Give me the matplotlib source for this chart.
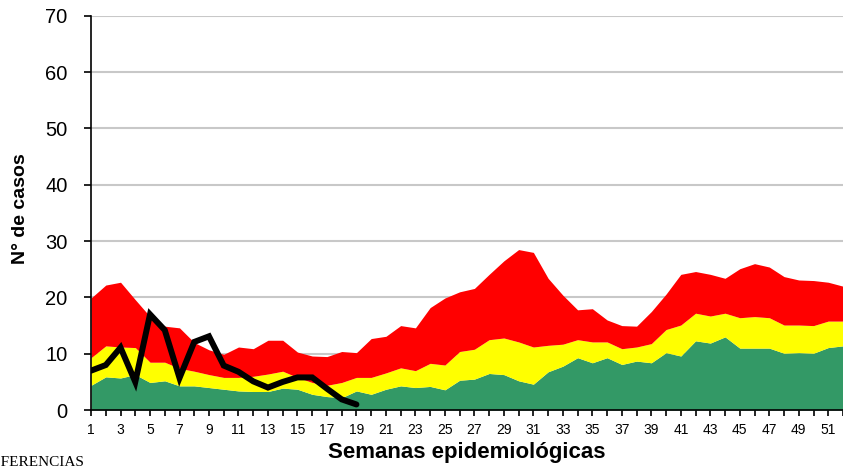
#!/usr/bin/env python3
# -*- coding: utf-8 -*-
"""
Corredor endémico: zonas de éxito / seguridad / alarma y casos del año
"""

import numpy as np
import matplotlib
matplotlib.use('Agg')
import matplotlib.pyplot as plt

# === DATOS ===
semanas = list(range(1, 53))

# límite superior de la zona verde (éxito)
zona_exito = [4.4, 5.9, 5.7, 6.3, 4.9, 5.2, 4.3, 4.3, 4.0, 3.7,
              3.4, 3.3, 3.3, 3.9, 3.7, 2.8, 2.4, 2.2, 3.4, 2.8,
              3.7, 4.3, 4.0, 4.2, 3.6, 5.3, 5.5, 6.5, 6.3, 5.2,
              4.6, 6.8, 7.8, 9.3, 8.4, 9.3, 8.1, 8.7, 8.4, 10.2,
              9.6, 12.3, 11.9, 13.0, 11.0, 11.0, 11.0, 10.1, 10.2, 10.1,
              11.1, 11.4]

# límite superior de la zona amarilla (seguridad)
zona_seguridad = [9.3, 11.4, 11.2, 11.1, 8.5, 8.5, 7.4, 6.9, 6.3, 5.8,
                  5.8, 6.0, 6.4, 6.9, 5.8, 4.9, 4.4, 4.9, 5.8, 5.8,
                  6.6, 7.5, 7.0, 8.3, 8.0, 10.4, 10.8, 12.5, 12.8, 12.1,
                  11.2, 11.5, 11.7, 12.5, 12.1, 12.1, 10.9, 11.2, 11.8, 14.3,
                  15.1, 17.2, 16.7, 17.2, 16.4, 16.6, 16.4, 15.1, 15.1, 15.0,
                  15.8, 15.8]

# límite superior de la zona roja (alarma)
zona_alarma = [19.9, 22.2, 22.7, 19.6, 16.6, 14.9, 14.6, 12.0, 10.7, 9.9,
               11.2, 10.9, 12.4, 12.4, 10.3, 9.6, 9.5, 10.4, 10.2, 12.7,
               13.1, 15.0, 14.6, 18.2, 19.9, 21.0, 21.6, 24.1, 26.5, 28.5,
               28.0, 23.4, 20.4, 17.8, 18.0, 16.0, 15.0, 14.9, 17.5, 20.6,
               24.1, 24.6, 24.1, 23.4, 25.1, 26.0, 25.4, 23.7, 23.1, 23.0,
               22.7, 22.0]

# casos notificados del año (semanas 1-19)
semanas_casos = list(range(1, 20))
casos = [7.0, 8.0, 11.1, 5.0, 17.0, 14.2, 5.7, 12.1, 13.1, 7.9,
         6.8, 5.1, 4.0, 5.0, 5.8, 5.8, 3.8, 1.9, 1.0]

y_ticks = [0, 10, 20, 30, 40, 50, 60, 70]

# === ESTILO ===
FUENTE = ['Liberation Sans Narrow', 'Liberation Sans', 'DejaVu Sans']
plt.rcParams['font.family'] = FUENTE

VERDE = '#339966'
AMARILLO = '#FFFF00'
ROJO = '#FF0000'


def main():
    fig = plt.figure(figsize=(8.43, 4.66), dpi=100)
    ax = fig.add_axes([0.108, 0.120, 0.892, 0.846])

    x = np.array(semanas)
    ax.fill_between(x, 0, zona_exito, color=VERDE, lw=0, zorder=2)
    ax.fill_between(x, zona_exito, zona_seguridad, color=AMARILLO, lw=0, zorder=2)
    ax.fill_between(x, zona_seguridad, zona_alarma, color=ROJO, lw=0, zorder=2)

    ax.plot(semanas_casos, casos, color='black', linewidth=4.3,
            solid_capstyle='round', solid_joinstyle='miter', zorder=4)

    # ejes
    ax.set_xlim(1, 52)
    ax.set_ylim(0, 70)
    ax.set_yticks(y_ticks)
    ax.set_xticks(semanas)
    ax.set_xticklabels([str(s) if s % 2 == 1 else '' for s in semanas])

    ax.yaxis.grid(True, color='#c8c8c8', linewidth=1.5, zorder=0)
    ax.set_axisbelow(True)

    for lado in ['top', 'right']:
        ax.spines[lado].set_visible(False)
    ax.spines['left'].set_linewidth(1.2)
    ax.spines['bottom'].set_linewidth(1.2)
    ax.spines['left'].set_zorder(5)
    ax.spines['bottom'].set_zorder(5)

    ax.tick_params(axis='y', direction='out', length=5, width=1.2,
                   labelsize=14.5, pad=12)
    ax.tick_params(axis='x', direction='out', length=4, width=1.2,
                   labelsize=10, pad=5)

    ax.set_xlabel('Semanas epidemiológicas', fontsize=16, fontweight='bold',
                  family=['Liberation Sans', 'DejaVu Sans'], labelpad=4)
    ax.set_ylabel('N° de casos', fontsize=14, fontweight='bold',
                  family=['Liberation Sans', 'DejaVu Sans'], labelpad=10)
    ax.yaxis.set_label_coords(-0.083, 0.51)

    fig.text(-0.022, 0.0, 'REFERENCIAS', fontsize=11,
             family=['Liberation Serif', 'DejaVu Serif'], ha='left', va='baseline')

    fig.savefig('out.png', dpi=100)


if __name__ == "__main__":
    main()
